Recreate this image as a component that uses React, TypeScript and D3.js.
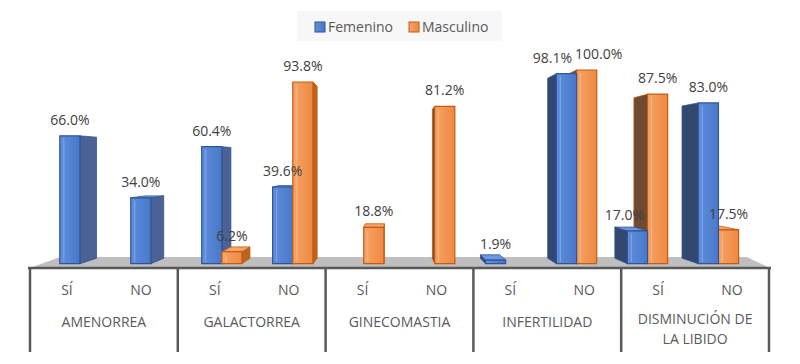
import React from 'react';
import * as d3 from 'd3';

const categories = ['AMENORREA', 'GALACTORREA', 'GINECOMASTIA', 'INFERTILIDAD', 'DISMINUCIÓN DE LA LIBIDO'];
const answers = ['SÍ', 'NO'];
const seriesNames = ['Femenino', 'Masculino'];
// one value per category/answer pair, null = no bar
const femenino = [66.0, 34.0, 60.4, 39.6, null, null, 1.9, 98.1, 17.0, 83.0];
const masculino = [null, null, 6.2, 93.8, 18.8, 81.2, null, 100.0, 87.5, 17.5];

const W = 800;
const H = 364;
const X0 = 30;
const X1 = 769;
const BASE = 268;
// perspective: vanishing point and depth of the bar front/back planes
const VX = 392;
const VY = 161;
const T1 = 0.04;
const T2 = 0.091;
const FONT = "'Open Sans', 'DejaVu Sans', sans-serif";

// excel pushed a few labels sideways to avoid overlap
const labelNudge: Record<string, number> = { 'Femenino-7': -14, 'Masculino-7': 12, 'Femenino-8': -13 };

const colors = {
  Femenino: { a: '#5F8EDD', b: '#4A78C9', stroke: '#2F5597', right: '#4A6294', left: '#33476F', top: '#6F98E0' },
  Masculino: { a: '#F6A466', b: '#EE8841', stroke: '#C55A11', right: '#BC641F', left: '#6F4B33', top: '#F4A56C' }
};

const proj = (x: number, y: number, t: number): [number, number] => [x + (VX - x) * t, y + (VY - y) * t];
const pts = (p: [number, number][]) => p.map(d => d.join(',')).join(' ');

function wrap (s: string, max: number) {
  const lines: string[] = [];
  let cur = '';
  s.split(' ').forEach(w => {
    if (cur && (cur + ' ' + w).length > max) { lines.push(cur); cur = w; } else cur = cur ? cur + ' ' + w : w;
  });
  lines.push(cur);
  return lines;
}

export default function App () {
  const xCat = d3.scaleBand().domain(categories).range([X0, X1]);
  const xAns = d3.scaleBand().domain(answers).range([0, xCat.bandwidth()]);
  const xSer = d3.scaleBand().domain(seriesNames).range([0, xAns.bandwidth()]).paddingInner(0).paddingOuter(0.76);
  const y = d3.scaleLinear().domain([0, 100]).range([BASE, BASE - 201.8]);

  const bars: any[] = [];
  categories.forEach((c, ci) => {
    answers.forEach((a, ai) => {
      const i = ci * answers.length + ai;
      [femenino, masculino].forEach((vals, si) => {
        const v = vals[i];
        if (v == null) return;
        const name = seriesNames[si];
        const x0 = (xCat(c) as number) + (xAns(a) as number) + (xSer(name) as number);
        const x1 = x0 + xSer.bandwidth();
        bars.push({ name, i, v, x0, x1, yt: y(v) });
      });
    });
  });
  // paint far-from-centre bars first
  bars.sort((p, q) => Math.abs(q.x0 + q.x1 - 2 * VX) - Math.abs(p.x0 + p.x1 - 2 * VX));

  const floor: [number, number][] = [[X0, BASE], [X1 + 1, BASE], [X1 - 22, BASE - 11], [X0 + 30, BASE - 11]];

  return (
    <svg width={W} height={H} style={{ position: 'absolute', left: 0, top: 0, background: '#fff' }} fontFamily={FONT}>
      <defs>
        {seriesNames.map(n => (
          <linearGradient key={n} id={'g-' + n} x1="0" x2="1" y1="0" y2="0">
            <stop offset="0" stopColor={colors[n].a} />
            <stop offset="1" stopColor={colors[n].b} />
          </linearGradient>
        ))}
      </defs>

      <polygon points={pts(floor)} fill="#BFBFBF" />

      {bars.map(b => {
        const col = colors[b.name];
        const f0 = proj(b.x0, b.yt, T1);
        const f1 = proj(b.x1, b.yt, T1);
        const f2 = proj(b.x1, BASE, T1);
        const f3 = proj(b.x0, BASE, T1);
        let side = null;
        if (f1[0] < VX) {
          side = <polygon points={pts([f1, proj(b.x1, b.yt, T2), proj(b.x1, BASE, T2), f2])} fill={col.right} stroke={col.stroke} strokeWidth={0.8} />;
        } else if (f0[0] > VX) {
          side = <polygon points={pts([f0, proj(b.x0, b.yt, T2), proj(b.x0, BASE, T2), f3])} fill={col.left} stroke={col.stroke} strokeWidth={0.8} />;
        }
        const top = f0[1] > VY
          ? <polygon points={pts([f0, f1, proj(b.x1, b.yt, T2), proj(b.x0, b.yt, T2)])} fill={col.top} stroke={col.stroke} strokeWidth={0.8} />
          : null;
        return (
          <g key={b.name + b.i}>
            {side}
            {top}
            <polygon points={pts([f0, f1, f2, f3])} fill={`url(#g-${b.name})`} stroke={col.stroke} strokeWidth={1.2} />
            <line x1={f0[0] + 4} x2={f0[0] + 4} y1={f0[1] + 3} y2={f3[1] - 2} stroke="#ffffff" strokeOpacity={0.25} />
          </g>
        );
      })}

      {bars.map(b => {
        const f0 = proj(b.x0, b.yt, T1);
        const f1 = proj(b.x1, b.yt, T1);
        const nudge = labelNudge[b.name + '-' + b.i] || 0;
        return (
          <text key={'l' + b.name + b.i} x={(f0[0] + f1[0]) / 2 + nudge} y={f0[1] - 11} textAnchor="middle" fontSize={14} fill="#404040">
            {d3.format('.1f')(b.v) + '%'}
          </text>
        );
      })}

      <line x1={X0 - 2} x2={X1 + 2} y1={BASE} y2={BASE} stroke="#595959" strokeWidth={2.5} />
      {categories.map(c => xCat(c) as number).concat([X1]).map((x, k) => (
        <line key={'t' + k} x1={x} x2={x} y1={BASE} y2={352} stroke="#595959" strokeWidth={2.5} />
      ))}

      {categories.map(c => {
        const cx = (xCat(c) as number) + xCat.bandwidth() / 2;
        const lines = wrap(c, 15);
        const y0 = lines.length > 1 ? 324 : 327;
        return (
          <g key={'c' + c} fill="#595959" fontSize={14} textAnchor="middle">
            {answers.map(a => (
              <text key={a} x={(xCat(c) as number) + (xAns(a) as number) + xAns.bandwidth() / 2} y={295}>{a}</text>
            ))}
            {lines.map((l, k) => <text key={k} x={cx} y={y0 + k * 20}>{l}</text>)}
          </g>
        );
      })}

      <g>
        <rect x={297} y={11} width={205} height={30} fill="#F7F7F7" />
        {seriesNames.map((n, k) => {
          const lx = k === 0 ? 315 : 409;
          return (
            <g key={'lg' + n}>
              <rect x={lx} y={22} width={10} height={10} fill={`url(#g-${n})`} stroke={colors[n].stroke} strokeWidth={1} />
              <text x={lx + 13} y={32} fontSize={14} fill="#595959">{n}</text>
            </g>
          );
        })}
      </g>
    </svg>
  );
}
